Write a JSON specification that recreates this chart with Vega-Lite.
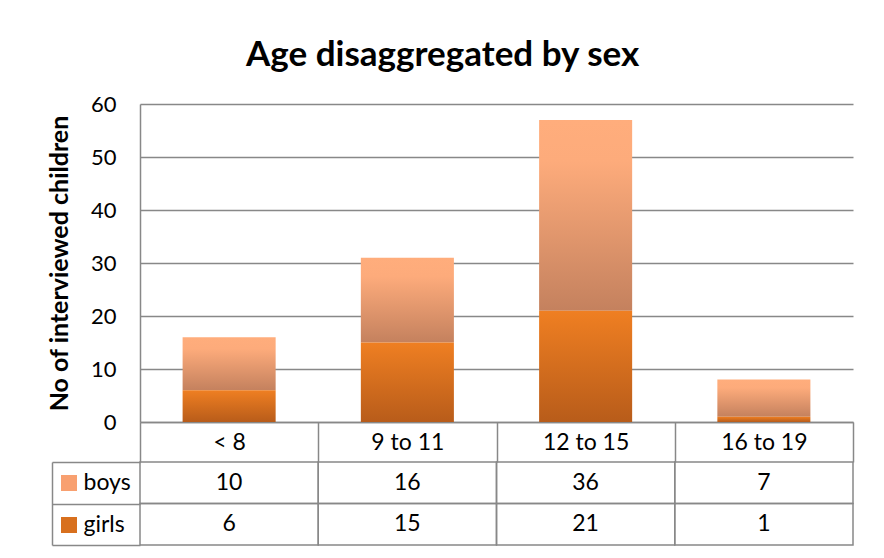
{
  "$schema": "https://vega.github.io/schema/vega-lite/v6.json",
  "background": "white",
  "padding": {"left": 47, "top": 38, "right": 29, "bottom": 6},
  "bounds": "flush",
  "spacing": 40,
  "config": {"font": "Lato", "view": {"stroke": null}},
  "title": {"text": "Age disaggregated by sex", "fontSize": 35, "fontWeight": "bold", "font": "Lato", "color": "black", "anchor": "middle", "frame": "bounds", "offset": 20, "dx": -8},
  "data": {"values": [
    {"age": "< 8", "sex": "boys", "count": 10},
    {"age": "9 to 11", "sex": "boys", "count": 16},
    {"age": "12 to 15", "sex": "boys", "count": 36},
    {"age": "16 to 19", "sex": "boys", "count": 7},
    {"age": "< 8", "sex": "girls", "count": 6},
    {"age": "9 to 11", "sex": "girls", "count": 15},
    {"age": "12 to 15", "sex": "girls", "count": 21},
    {"age": "16 to 19", "sex": "girls", "count": 1}
  ]},
  "resolve": {"scale": {"fill": "independent"}, "legend": {"fill": "independent"}},
  "vconcat": [
    {
      "width": 713,
      "height": 318,
      "mark": {"type": "bar", "width": {"band": 0.522}},
      "encoding": {
        "x": {"field": "age", "type": "nominal", "sort": ["< 8", "9 to 11", "12 to 15", "16 to 19"],
              "scale": {"paddingInner": 0, "paddingOuter": 0},
              "axis": {"title": null, "tickBand": "extent", "tickSize": 40, "tickColor": "#888", "tickWidth": 1.5,
                       "domainColor": "#888", "domainWidth": 1.5, "labelAngle": 0, "labelFontSize": 23, "labelColor": "black",
                       "labelBaseline": "middle", "labelPadding": -20, "grid": false}},
        "y": {"field": "count", "type": "quantitative", "stack": "zero", "scale": {"domain": [0, 60], "nice": false},
              "axis": {"title": "No of interviewed children", "titleFontSize": 25, "titleFontWeight": "bold", "titleColor": "black",
                       "titlePadding": 18, "values": [0, 10, 20, 30, 40, 50, 60], "ticks": false, "labelPadding": 24,
                       "labelFontSize": 22, "labelColor": "black", "domainColor": "#888", "domainWidth": 1.5,
                       "grid": true, "gridColor": "#888", "gridWidth": 1.5}},
        "order": {"field": "sex", "sort": "descending"},
        "detail": {"field": "sex"},
        "fill": {
          "condition": {"test": "datum.sex === 'boys'",
                        "value": {"gradient": "linear", "x1": 0, "y1": 0, "x2": 0, "y2": 1,
                                  "stops": [{"offset": 0, "color": "#FFAD7C"}, {"offset": 0.22, "color": "#FDAB7B"}, {"offset": 1, "color": "#C4815E"}]}},
          "value": {"gradient": "linear", "x1": 0, "y1": 0, "x2": 0, "y2": 1,
                    "stops": [{"offset": 0, "color": "#EF7F22"}, {"offset": 1, "color": "#B85C1A"}]}
        }
      }
    },
    {
      "width": 713,
      "height": 83,
      "encoding": {
        "x": {"field": "age", "type": "nominal", "sort": ["< 8", "9 to 11", "12 to 15", "16 to 19"],
              "scale": {"paddingInner": 0, "paddingOuter": 0}, "axis": null},
        "y": {"field": "sex", "type": "nominal", "sort": ["boys", "girls"],
              "scale": {"paddingInner": 0, "paddingOuter": 0},
              "axis": {"title": null, "offset": 88, "tickSize": -88, "tickBand": "extent", "tickColor": "#888", "tickWidth": 1.5,
                       "domainColor": "#888", "domainWidth": 1.5, "labelAlign": "left", "labelBaseline": "middle",
                       "labelPadding": 57, "labelFontSize": 23, "labelColor": "black", "grid": false}}
      },
      "layer": [
        {
          "mark": {"type": "rect", "stroke": "#888", "strokeWidth": 1.5},
          "encoding": {
            "fill": {"field": "sex", "type": "nominal", "scale": {"range": ["#F8A070", "#D8701E"]},
                     "legend": {"title": null, "orient": "none", "legendX": -79, "legendY": 13, "direction": "vertical",
                                "symbolType": "square", "symbolSize": 256, "symbolStrokeWidth": 0, "symbolOpacity": 1, "labelExpr": "''",
                                "labelFontSize": 10, "rowPadding": 26, "padding": 0,
                                "encode": {"symbols": {"update": {
                                  "fill": {"signal": "datum.value === 'boys' ? {gradient: 'linear', x1: 0, y1: 0, x2: 0, y2: 1, stops: [{offset: 0, color: '#FFAD7C'}, {offset: 1, color: '#C4815E'}]} : {gradient: 'linear', x1: 0, y1: 0, x2: 0, y2: 1, stops: [{offset: 0, color: '#EF7F22'}, {offset: 1, color: '#B85C1A'}]}"},
                                  "stroke": {"value": "transparent"}}}}}},
            "fillOpacity": {"value": 0}
          }
        },
        {
          "mark": {"type": "text", "fontSize": 23, "color": "black"},
          "encoding": {"text": {"field": "count", "type": "quantitative"}}
        }
      ]
    }
  ]
}
